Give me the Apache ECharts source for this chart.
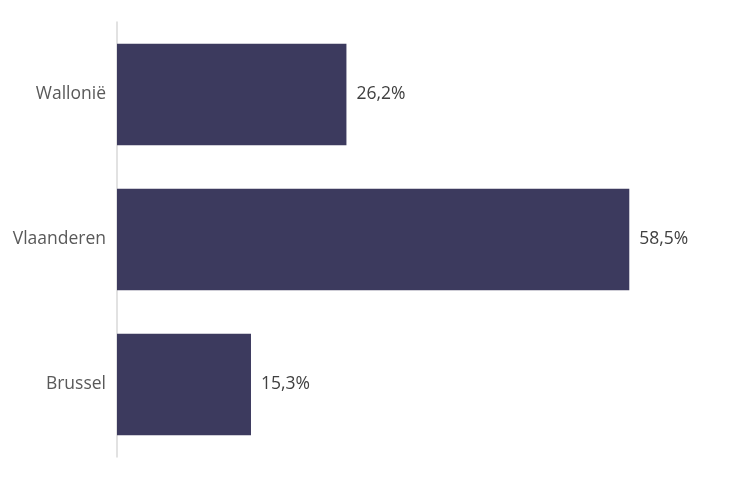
<!DOCTYPE html>
<html><head><meta charset="utf-8">
<script src="https://cdn.jsdelivr.net/npm/echarts@6/dist/echarts.min.js"></script>
<style>html,body{margin:0;padding:0;background:#fff}#c{width:754px;height:480px}</style>
</head><body><div id="c"></div>
<script>
const categories = ['Brussel', 'Vlaanderen', 'Wallonië'];
const values = [15.3, 58.5, 26.2];
const chart = echarts.init(document.getElementById('c'));
chart.setOption({
  animation: false,
  grid: { left: 117, right: 24, top: 22, bottom: 23, containLabel: false },
  xAxis: { type: 'value', min: 0, max: 70, show: false },
  yAxis: {
    type: 'category', data: categories,
    axisLine: { show: true, lineStyle: { color: '#d9d9d9', width: 1.5 } },
    axisTick: { show: false },
    axisLabel: { color: '#595959', fontSize: 17.5, fontFamily: 'Open Sans', margin: 11 },
    splitLine: { show: false }
  },
  series: [{
    type: 'bar', data: values, barCategoryGap: '30%',
    itemStyle: { color: '#3c3a5e' },
    label: { show: true, position: 'right', distance: 10, color: '#404040', fontSize: 17.5, fontFamily: 'Open Sans',
      formatter: p => p.value.toFixed(1).replace('.', ',') + '%' }
  }]
});
</script></body></html>
